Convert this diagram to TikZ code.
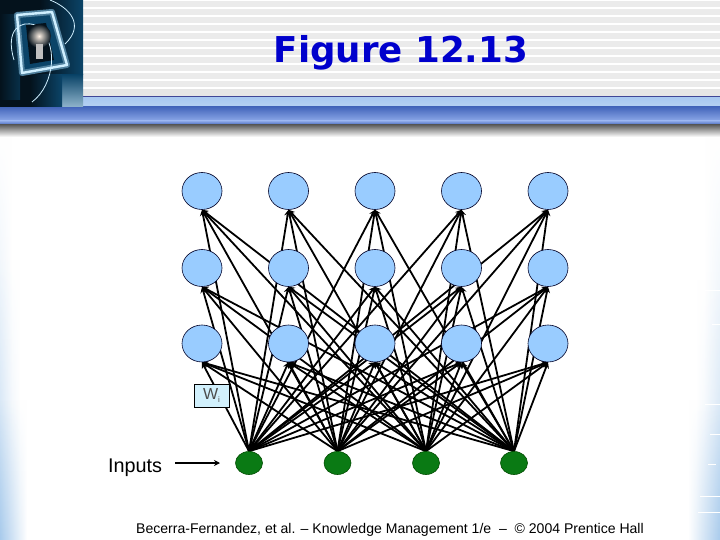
\documentclass[tikz,border=0pt]{standalone}
\usepackage{fontspec}
\setmainfont{Liberation Sans}
\newfontfamily\titlefont{DejaVu Sans}
\usetikzlibrary{shapes.geometric,arrows.meta,fadings}
\pgfdeclarelayer{bg}
\pgfdeclarelayer{edges}
\pgfsetlayers{bg,edges,main}
\definecolor{edgeblue}{HTML}{A9CBEC}
\definecolor{nodeblue}{HTML}{99CCFF}
\definecolor{inputgreen}{HTML}{0A7A14}
\definecolor{bandline}{HTML}{3F4596}
\definecolor{bandlight}{HTML}{A8C8F0}
\definecolor{banddark}{HTML}{4466BB}
\definecolor{bandmid}{HTML}{8CA8E8}
\definecolor{logodark}{HTML}{04121C}
\definecolor{logoblue}{HTML}{0B4468}
\definecolor{logopale}{HTML}{8FB4CC}
\definecolor{logoglow}{HTML}{CFEFFF}
\tikzset{
  unit/.style={ellipse,draw=black!85!blue,line width=0.6pt,fill=nodeblue,minimum width=40pt,minimum height=37pt,inner sep=0pt},
  inputunit/.style={ellipse,draw=black!70!green,line width=0.6pt,fill=inputgreen,minimum width=27pt,minimum height=23pt,inner sep=0pt},
  link/.style={line width=1.8pt,black,-{Stealth[length=6pt,width=6.5pt]}},
  weightbox/.style={draw=black,line width=0.5pt,fill=cyan!18,minimum width=35pt,minimum height=23pt,inner sep=0pt}
}
\begin{document}
\begin{tikzpicture}[x=1pt,y=-1pt]
\useasboundingbox (0,0) rectangle (720,540);
\begin{pgfonlayer}{bg}
\fill[white] (0,0) rectangle (720,540);
% soft side gradients
\shade[left color=edgeblue!45!white,right color=white,path fading=north] (0,136) rectangle (12,540);
\shade[left color=edgeblue!55!white,right color=white,path fading=north] (0,260) rectangle (20,540);
\shade[left color=edgeblue,right color=white,path fading=north] (0,400) rectangle (27,540);
\shade[left color=white,right color=edgeblue!40!white,path fading=north] (704,136) rectangle (720,540);
\shade[left color=white,right color=edgeblue!55!white,path fading=north] (696,280) rectangle (720,540);
\shade[left color=white,right color=edgeblue,path fading=north] (688,400) rectangle (720,540);
% dashes at right edge
\foreach \xa/\ya/\xb in {705/290/720,712/324/720,705/404/720,710/434/720,708/464/716,700/496/720,698/512/720}{
  \draw[white,line width=0.6pt] (\xa,\ya) -- (\xb,\ya);
}
% header stripes
\fill[white] (83,0) rectangle (720,96);
\foreach \y in {1,9,...,89}{ \fill[black!8] (83,\y) rectangle (720,\y+6.5); }
\fill[black!10] (83,89) rectangle (720,96);
% header bars
\fill[bandline] (83,96) rectangle (720,97.5);
\shade[top color=bandlight,bottom color=bandlight!85!white] (83,97.5) rectangle (720,107);
\shade[top color=banddark,bottom color=bandmid] (0,107) rectangle (720,121);
\shade[top color=bandmid,bottom color=banddark] (0,121) rectangle (720,125);
\shade[top color=black!62,bottom color=white] (0,125) rectangle (720,137);
% logo
\fill[logodark] (0,0) rectangle (83,107);
\shade[left color=logodark,right color=logoblue] (40,0) rectangle (83,75);
\shade[top color=logoblue,bottom color=logopale] (62,75) rectangle (83,107);
\shade[left color=logodark,right color=logoblue] (30,75) rectangle (62,107);
\shade[left color=logodark,right color=logoblue!70!black] (0,15) rectangle (20,100);
\fill[logoblue] (20,16) -- (50,13) -- (66,64) -- (24,72) -- cycle;
\draw[logoglow!35!logoblue,line width=6pt,line join=round] (17,15) -- (52,12) -- (67,65) -- (22,73) -- cycle;
\draw[logoglow,line width=2.4pt,line join=round] (17,15) -- (52,12) -- (67,65) -- (22,73) -- cycle;
\fill[logodark] (26,25) -- (46,23) -- (54,60) -- (30,64) -- cycle;
\draw[logoglow,line width=0.8pt] (50,0) .. controls (70,8) and (85,25) .. (65,44);
\draw[logoglow,line width=0.8pt] (32,102) .. controls (55,85) and (60,40) .. (35,25) .. controls (20,20) and (5,30) .. (14,60);
\shade[inner color=white!90!orange,outer color=logodark] (39,36) circle (12pt);
\fill[black!25] (36,44) rectangle (43,59);
\end{pgfonlayer}

% nodes
\foreach \i/\x in {1/202,2/288.5,3/375,4/461.5,5/548}{
  \node[unit] (c\i) at (\x,191) {};
  \node[unit] (b\i) at (\x,268) {};
  \node[unit] (a\i) at (\x,343.5) {};
}
\foreach \i/\x in {1/249,2/337.5,3/426,4/514}{
  \node[inputunit] (in\i) at (\x,463) {};
}
% connectors, behind the units
\begin{pgfonlayer}{edges}
\foreach \s in {1,2,3,4}{
  \foreach \t in {1,2,3,4,5}{
    \draw[link] (in\s.north) -- (a\t.south);
    \draw[link] (in\s.north) -- (b\t.south);
    \draw[link] (in\s.north) -- (c\t.south);
  }
}
\end{pgfonlayer}

\node[weightbox,text=black!70] (wi) at (211.5,395.5) {\raisebox{-2pt}{\fontsize{16}{16}\selectfont W\raisebox{-3pt}{\fontsize{8}{8}\selectfont i}}};

\node[anchor=center,inner sep=0pt] (inputs) at (135,468) {\fontsize{19.8}{22}\selectfont Inputs};
\coordinate (inputstail) at (175,463);
\coordinate (inputshead) at (220,463);
\draw[line width=1.5pt,-{Stealth[length=6pt,width=6pt]}] (inputstail) -- (inputshead);

\node[anchor=center,inner sep=0pt,text=blue!80!black] (title) at (401,52.5) {\titlefont\bfseries\fontsize{35.6}{40}\selectfont Figure 12.13};
\node[anchor=center,inner sep=0pt] (foot) at (390,530) {\fontsize{14.05}{16}\selectfont Becerra-Fernandez, et al. -- Knowledge Management 1/e~~--~~© 2004 Prentice Hall};
\end{tikzpicture}
\end{document}
